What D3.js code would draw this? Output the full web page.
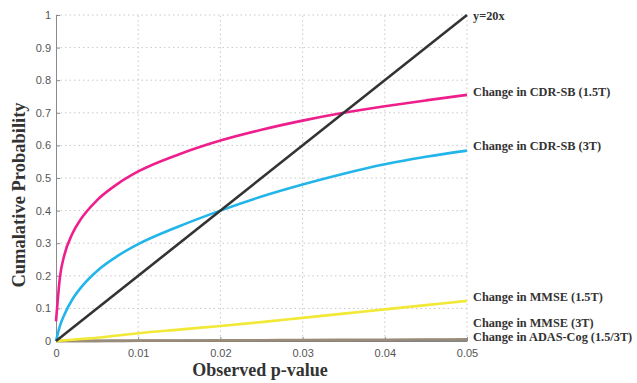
<!DOCTYPE html>
<html>
<head>
<meta charset="utf-8">
<script src="https://cdn.jsdelivr.net/npm/d3@7"></script>
<style>
  body { margin: 0; background: #fff; }
  svg { display: block; }
</style>
</head>
<body>
<svg id="chart"></svg>
<script>
// p-values shared by the curves
const pvals = [0, 0.0005, 0.001, 0.002, 0.003, 0.005, 0.0075, 0.01, 0.015, 0.02, 0.025, 0.03, 0.035, 0.04, 0.045, 0.05];
const cdr15 = [0.06, 0.20, 0.262, 0.33, 0.373, 0.432, 0.482, 0.52, 0.573, 0.615, 0.648, 0.676, 0.70, 0.72, 0.738, 0.755];
const cdr3 = [0, 0.048, 0.08, 0.128, 0.163, 0.215, 0.261, 0.297, 0.352, 0.40, 0.443, 0.48, 0.513, 0.542, 0.565, 0.584];
const mmse15 = [0, 0.001, 0.002, 0.004, 0.006, 0.01, 0.017, 0.024, 0.035, 0.046, 0.058, 0.071, 0.084, 0.097, 0.11, 0.123];
const mmse3 = [0, 0, 0, 0, 0, 0.0002, 0.0004, 0.0006, 0.0009, 0.0012, 0.0015, 0.0018, 0.0021, 0.0024, 0.0027, 0.003];
const adas = [0, 0, 0, 0.0002, 0.0003, 0.0005, 0.0008, 0.001, 0.0015, 0.002, 0.0025, 0.003, 0.0035, 0.004, 0.0045, 0.005];
const refX = [0, 0.05];
const refY = [0, 1];

const xTicks = [0, 0.01, 0.02, 0.03, 0.04, 0.05];
const yTicks = [0, 0.1, 0.2, 0.3, 0.4, 0.5, 0.6, 0.7, 0.8, 0.9, 1];

const series = [
  {name: "Change in MMSE (3T)", y: mmse3, color: "#7a7a7a", labelY: 323},
  {name: "Change in ADAS-Cog (1.5/3T)", y: adas, color: "#9a8c78", labelY: 337},
  {name: "Change in MMSE (1.5T)", y: mmse15, color: "#f2e836", labelY: 297},
  {name: "Change in CDR-SB (3T)", y: cdr3, color: "#22b5ea", labelY: 146},
  {name: "Change in CDR-SB (1.5T)", y: cdr15, color: "#ee1f8c", labelY: 92}
];

const W = 637, H = 383;
const svg = d3.select("#chart").attr("width", W).attr("height", H);

const x = d3.scaleLinear().domain([0, 0.05]).range([56, 467]);
const y = d3.scaleLinear().domain([0, 1]).range([341, 15]);

// grid
const grid = svg.append("g");
grid.selectAll(".gx").data(xTicks.slice(1)).join("line")
  .attr("x1", d => x(d)).attr("x2", d => x(d))
  .attr("y1", y(0)).attr("y2", y(1))
  .attr("stroke", "#c8c8c8").attr("stroke-dasharray", "1.5,3");
grid.selectAll(".gy").data(yTicks.slice(1)).join("line")
  .attr("x1", x(0)).attr("x2", x(0.05))
  .attr("y1", d => y(d)).attr("y2", d => y(d))
  .attr("stroke", "#c8c8c8").attr("stroke-dasharray", "1.5,3");

// axes
const xAxis = d3.axisBottom(x).tickValues(xTicks).tickSizeInner(-4).tickSizeOuter(0).tickPadding(8)
  .tickFormat(d => d === 0 ? "0" : d3.format(".2f")(d));
const yAxis = d3.axisLeft(y).tickValues(yTicks).tickSizeInner(-4).tickSizeOuter(0).tickPadding(5)
  .tickFormat(d => d === 0 ? "0" : (d === 1 ? "1" : d3.format(".1f")(d)));

const gx = svg.append("g").attr("transform", `translate(0,${y(0)})`).call(xAxis);
const gy = svg.append("g").attr("transform", `translate(${x(0)},0)`).call(yAxis);
[gx, gy].forEach(g => {
  g.select(".domain").attr("stroke", "#8a8a8a");
  g.selectAll(".tick line").attr("stroke", "#8a8a8a");
  g.selectAll("text").attr("fill", "#555").style("font", "11px 'Liberation Sans', Arial, sans-serif");
});

// curves
const line = d3.line().x(d => x(d[0])).y(d => y(d[1])).curve(d3.curveMonotoneX);
series.forEach(s => {
  svg.append("path")
    .datum(pvals.map((p, i) => [p, s.y[i]]))
    .attr("d", line)
    .attr("fill", "none")
    .attr("stroke", s.color)
    .attr("stroke-width", 2.6);
});
svg.append("path")
  .datum(refX.map((p, i) => [p, refY[i]]))
  .attr("d", d3.line().x(d => x(d[0])).y(d => y(d[1])))
  .attr("fill", "none")
  .attr("stroke", "#333")
  .attr("stroke-width", 2.6);

// labels on the right
const labelFont = "bold 12.3px 'Liberation Serif', 'Times New Roman', serif";
series.concat([{name: "y=20x", labelY: 16}]).forEach(s => {
  svg.append("text")
    .attr("x", 473).attr("y", s.labelY).attr("dy", "0.35em")
    .attr("fill", "#333")
    .style("font", labelFont)
    .text(s.name);
});

// axis titles
svg.append("text")
  .attr("x", 260).attr("y", 376)
  .attr("text-anchor", "middle")
  .attr("fill", "#333")
  .style("font", "bold 18px 'Liberation Serif', 'Times New Roman', serif")
  .text("Observed p-value");
svg.append("text")
  .attr("transform", "translate(25,195) rotate(-90)")
  .attr("text-anchor", "middle")
  .attr("fill", "#333")
  .style("font", "bold 18.5px 'Liberation Serif', 'Times New Roman', serif")
  .text("Cumalative Probability");
</script>
</body>
</html>
